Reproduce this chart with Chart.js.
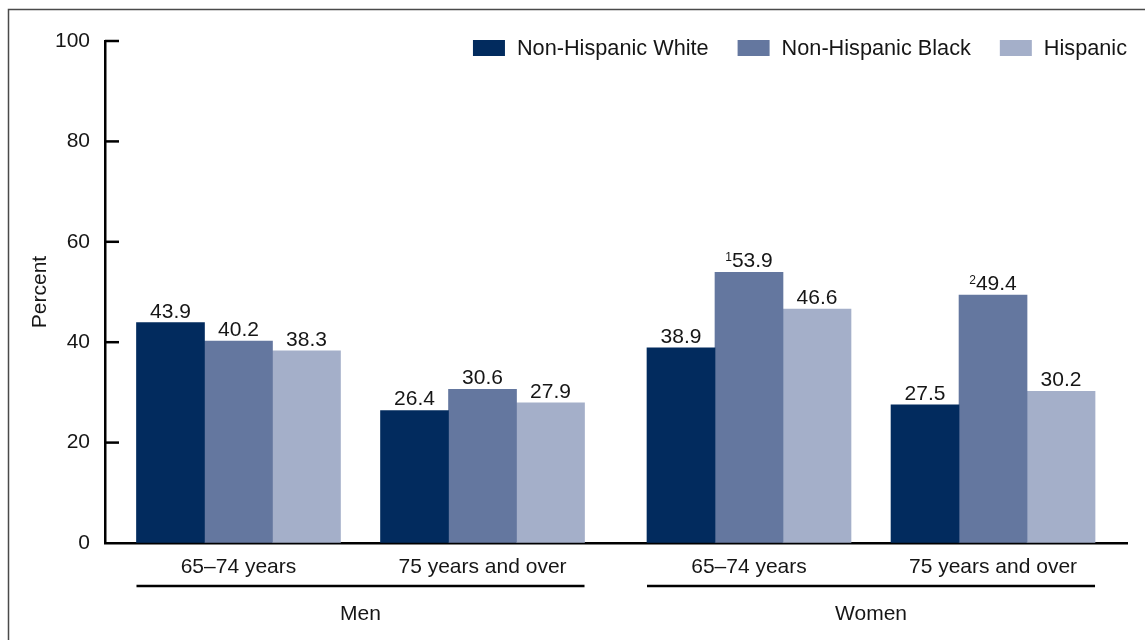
<!doctype html>
<html lang="en">
<head>
    <meta charset="UTF-8">
    <title>Percent by sex, age and race and Hispanic origin</title>
    <script src="https://cdn.jsdelivr.net/npm/chart.js"></script>
    <style>
        body { margin: 0; background: #fff; }
        canvas { display: block; }
    </style>
</head>
<body>
    <canvas id="barChart" width="1145" height="640"></canvas>
    <script>
        // categories
        const sexGroups = ['Men', 'Women'];
        const ageGroups = ['65–74 years', '75 years and over'];
        const seriesNames = ['Non-Hispanic White', 'Non-Hispanic Black', 'Hispanic'];

        // values in order: Men 65–74, Men 75+, Women 65–74, Women 75+
        const whiteValues = [43.9, 26.4, 38.9, 27.5];
        const blackValues = [40.2, 30.6, 53.9, 49.4];
        const hispanicValues = [38.3, 27.9, 46.6, 30.2];

        // footnote markers printed before a value
        const whiteNotes = ['', '', '', ''];
        const blackNotes = ['', '', '1', '2'];
        const hispanicNotes = ['', '', '', ''];

        const yTicks = [0, 20, 40, 60, 80, 100];

        const seriesColors = ['#022B5E', '#64779F', '#A4AFC9'];
        const FONT = '"Liberation Sans", Arial, Helvetica, sans-serif';
        const TEXT = '#161616';
        const groupGap = 0.092; // extra space between Men and Women

        // x position of each sex/age category
        const categories = [];
        sexGroups.forEach((sex, s) => {
            ageGroups.forEach((age, a) => {
                categories.push({ sex: s, label: age, x: categories.length + s * groupGap });
            });
        });

        const seriesValues = [whiteValues, blackValues, hispanicValues];
        const seriesNotes = [whiteNotes, blackNotes, hispanicNotes];

        const decorations = {
            id: 'decorations',
            beforeDraw(chart) {
                const ctx = chart.ctx;
                ctx.save();
                ctx.strokeStyle = '#4a4a4a';
                ctx.lineWidth = 1.5;
                ctx.beginPath();
                ctx.moveTo(8.5, 640);
                ctx.lineTo(8.5, 9.5);
                ctx.lineTo(1145, 9.5);
                ctx.stroke();
                ctx.restore();
            },
            afterDraw(chart) {
                const ctx = chart.ctx;
                const area = chart.chartArea;
                const yScale = chart.scales.y;
                ctx.save();

                // tick marks pointing into the plot
                ctx.strokeStyle = '#000';
                ctx.lineWidth = 2.5;
                yTicks.forEach(v => {
                    if (v === 0) return;
                    const py = yScale.getPixelForValue(v);
                    ctx.beginPath();
                    ctx.moveTo(area.left, py);
                    ctx.lineTo(area.left + 14, py);
                    ctx.stroke();
                });

                // value labels above bars
                ctx.fillStyle = TEXT;
                ctx.textBaseline = 'alphabetic';
                ctx.textAlign = 'left';
                chart.data.datasets.forEach((ds, d) => {
                    const meta = chart.getDatasetMeta(d);
                    meta.data.forEach((bar, i) => {
                        const num = seriesValues[d][i].toFixed(1);
                        const note = seriesNotes[d][i];
                        ctx.font = '21px ' + FONT;
                        const numW = ctx.measureText(num).width;
                        ctx.font = '12px ' + FONT;
                        const noteW = note ? ctx.measureText(note).width : 0;
                        const start = bar.x - (numW + noteW) / 2;
                        const base = bar.y - 5;
                        if (note) ctx.fillText(note, start, base - 6);
                        ctx.font = '21px ' + FONT;
                        ctx.fillText(num, start + noteW, base);
                    });
                });

                // category labels, group underlines and sex labels
                const first = chart.getDatasetMeta(0).data;
                const last = chart.getDatasetMeta(chart.data.datasets.length - 1).data;
                ctx.textAlign = 'center';
                ctx.font = '21px ' + FONT;
                categories.forEach((c, i) => {
                    const cx = (first[i].x + last[i].x) / 2;
                    ctx.fillText(c.label, cx, 573);
                });
                sexGroups.forEach((sex, s) => {
                    const idx = categories.map((c, i) => c.sex === s ? i : -1).filter(i => i >= 0);
                    const a = idx[0], b = idx[idx.length - 1];
                    const left = first[a].x - first[a].width / 2;
                    const right = last[b].x + last[b].width / 2;
                    ctx.beginPath();
                    ctx.lineWidth = 2.5;
                    ctx.moveTo(left, 586);
                    ctx.lineTo(right, 586);
                    ctx.stroke();
                    ctx.fillText(sex, (left + right) / 2, 620);
                });

                // legend, right aligned inside the plot
                ctx.textAlign = 'left';
                ctx.textBaseline = 'middle';
                ctx.font = '21.7px ' + FONT;
                let x = area.right;
                for (let d = seriesNames.length - 1; d >= 0; d--) {
                    const w = ctx.measureText(seriesNames[d]).width;
                    const tx = x - w;
                    ctx.fillStyle = TEXT;
                    ctx.fillText(seriesNames[d], tx, 49);
                    ctx.fillStyle = seriesColors[d];
                    ctx.fillRect(tx - 12 - 32, 40, 32, 16);
                    x = tx - 12 - 32 - 29;
                }
                ctx.restore();
            }
        };

        const ctx = document.getElementById('barChart').getContext('2d');
        const chart = new Chart(ctx, {
            type: 'bar',
            data: {
                datasets: seriesNames.map((name, d) => ({
                    label: name,
                    data: categories.map((c, i) => ({ x: c.x, y: seriesValues[d][i] })),
                    backgroundColor: seriesColors[d],
                    borderWidth: 0,
                    barThickness: 68
                }))
            },
            options: {
                responsive: false,
                animation: false,
                layout: { padding: { top: 41, right: 18, left: 0, bottom: 0 } },
                plugins: {
                    legend: { display: false },
                    tooltip: { enabled: false }
                },
                scales: {
                    x: {
                        type: 'linear',
                        offset: false,
                        min: -0.547,
                        max: 3 + groupGap + 0.549,
                        grid: { display: false },
                        ticks: { display: false },
                        border: { display: true, color: '#000', width: 2.5 },
                        afterFit: s => { s.height = 97; }
                    },
                    y: {
                        min: 0,
                        max: 100,
                        afterBuildTicks: s => { s.ticks = yTicks.map(v => ({ value: v })); },
                        grid: { display: true, drawOnChartArea: false, drawTicks: false },
                        border: { display: true, color: '#000', width: 2.5 },
                        ticks: {
                            padding: 15,
                            color: TEXT,
                            font: { family: FONT, size: 21 }
                        },
                        title: {
                            display: true,
                            text: 'Percent',
                            color: TEXT,
                            font: { family: FONT, size: 21 },
                            padding: { top: 28, bottom: 0 }
                        },
                        afterFit: s => { s.width = 105; }
                    }
                }
            },
            plugins: [decorations]
        });
    </script>
</body>
</html>
